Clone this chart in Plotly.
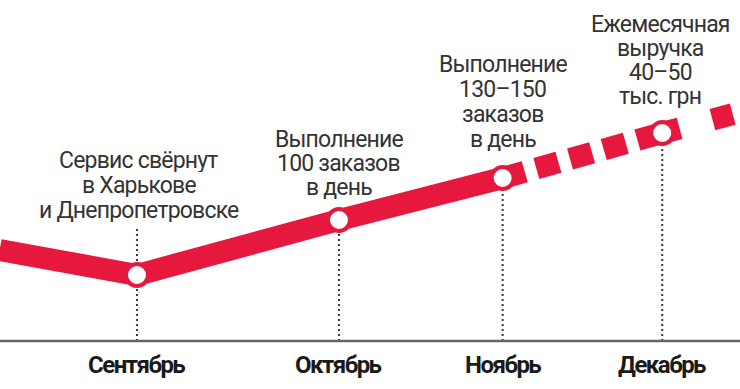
import plotly.graph_objects as go

# ---- data ----
months = ["Сентябрь", "Октябрь", "Ноябрь", "Декабрь"]
month_pos = [1.0, 2.0, 2.81, 3.60]          # position of each month on the time axis
point_values = [66, 121, 163, 208]          # trend level at each month

# actual (solid) part of the trend, incl. lead-in from August
solid_x = [0.32, 1.0, 2.0, 2.81]
solid_y = [91, 66, 121, 163]
# planned (dashed) part
plan_x = [2.81, 3.60]
plan_y = [163, 208]
ext_x = [3.60, 3.97]
ext_y = [208, 228]

notes = [
    ["Сервис свёрнут", "в Харькове", "и Днепропетровске"],
    ["Выполнение", "100 заказов", "в день"],
    ["Выполнение", "130–150", "заказов", "в день"],
    ["Ежемесячная", "выручка", "40–50", "тыс. грн"],
]

# ---- styling / layout ----
RED = "#E6183E"
FONT = "Roboto, Liberation Sans, sans-serif"
note_x = [1.01, 2.0, 2.81, 3.59]
note_baselines = [[168, 193, 218], [147, 171, 195], [72, 97, 122, 147], [32, 56, 80, 104]]
BASE_PX = 341
NOTE_FS = 23
MONTH_FS = 24

fig = go.Figure()

# dotted guides
guide_tops = [113, None, None, None]
for i, (mx, v) in enumerate(zip(month_pos, point_values)):
    top = guide_tops[i] if guide_tops[i] is not None else v
    fig.add_trace(go.Scatter(x=[mx, mx], y=[0, top], mode="lines",
                             line=dict(color="#3a3a3a", width=2, dash="2px,3px"),
                             hoverinfo="skip", showlegend=False))

# baseline
fig.add_trace(go.Scatter(x=[0.322, 3.985], y=[0, 0], mode="lines",
                         line=dict(color="#666666", width=2.5),
                         hoverinfo="skip", showlegend=False))

# trend lines
fig.add_trace(go.Scatter(x=solid_x, y=solid_y, mode="lines",
                         line=dict(color=RED, width=22), showlegend=False))
fig.add_trace(go.Scatter(x=plan_x, y=plan_y, mode="lines",
                         line=dict(color=RED, width=22, dash="23px,12px"), showlegend=False))
fig.add_trace(go.Scatter(x=ext_x, y=ext_y, mode="lines",
                         line=dict(color=RED, width=22, dash="18px,34px,21px,40px"), showlegend=False))

# markers
fig.add_trace(go.Scatter(x=month_pos, y=point_values, mode="markers",
                         marker=dict(size=22, color="white", line=dict(color=RED, width=4)),
                         showlegend=False))

# note texts (one annotation per line for tight leading)
for nx, lines, bls in zip(note_x, notes, note_baselines):
    for t, b in zip(lines, bls):
        fig.add_annotation(x=nx, y=BASE_PX - b + 0.342 * NOTE_FS,
                           text='<span style="letter-spacing:-0.8px">' + t + '</span>',
                           showarrow=False, xanchor="center", yanchor="middle",
                           height=24, borderpad=0,
                           font=dict(family=FONT, size=NOTE_FS, color="#333333"))

# month labels
for mx, m in zip(month_pos, months):
    fig.add_annotation(x=mx, y=BASE_PX - 373 + 0.342 * MONTH_FS,
                       text='<span style="letter-spacing:-1.5px"><b>' + m + '</b></span>',
                       showarrow=False, xanchor="center", yanchor="middle",
                       font=dict(family=FONT, size=MONTH_FS, color="#1a1a1a"))

fig.update_layout(
    width=740, height=389,
    margin=dict(l=0, r=0, t=0, b=0),
    paper_bgcolor="white", plot_bgcolor="white",
    xaxis=dict(range=[0.322, 3.985], visible=False, fixedrange=True),
    yaxis=dict(range=[-48, 341], visible=False, fixedrange=True),
    showlegend=False,
)

fig.write_html("out.html")
